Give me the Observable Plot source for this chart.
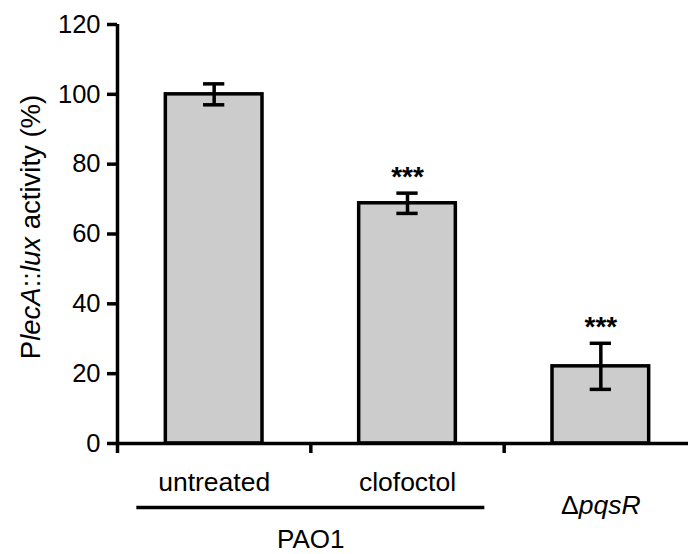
<!DOCTYPE html>
<html><head><meta charset="utf-8">
<script src="https://cdn.jsdelivr.net/npm/d3@7"></script>
<script src="https://cdn.jsdelivr.net/npm/@observablehq/plot@0.6"></script>
<style>html,body{margin:0;padding:0;background:#fff}</style>
</head><body><div id="chart"></div>
<script>
// ---- data ----
const categories = ["untreated", "clofoctol", "ΔpqsR"];
const means = [100, 68.8, 22.1];
const errors = [3.0, 2.9, 6.6];
const stars = ["", "***", "***"];
const yTicks = [0, 20, 40, 60, 80, 100, 120];
const groupLabel = "PAO1";
const groupMembers = [0, 1];
const yLabelText = "PlecA::lux activity (%)";
const yLabelParts = [["P", false], ["lecA", true], ["::", false], ["lux", true], [" activity (%)", false]];
const richLabels = {"ΔpqsR": [["Δ", false], ["pqsR", true]]};

// ---- build ----
const rows = categories.map((c, i) => ({
  name: c, i, mean: means[i], lo: means[i] - errors[i], hi: means[i] + errors[i],
  star: stars[i], grouped: groupMembers.includes(i)
}));
const group = [{label: groupLabel, a: Math.min(...groupMembers), b: Math.max(...groupMembers)}];
const font = "'Liberation Sans', Arial, Helvetica, sans-serif";
const sw = 3.5;

const plot = Plot.plot({
  width: 688, height: 554,
  marginLeft: 117, marginRight: 0, marginTop: 24, marginBottom: 111,
  style: {fontFamily: font, background: "white", color: "black"},
  x: {type: "linear", domain: [0, categories.length], range: [117, 697]},
  y: {domain: [0, 120]},
  marks: [
    Plot.rectY(rows, {x1: d => d.i + 0.25, x2: d => d.i + 0.75, y1: 0, y2: "mean",
      fill: "#cccccc", stroke: "black", strokeWidth: sw}),
    Plot.ruleX(rows, {x: d => d.i + 0.5, y1: "lo", y2: "hi", strokeWidth: sw}),
    Plot.ruleY(rows, {y: "hi", x1: d => d.i + 0.445, x2: d => d.i + 0.555, strokeWidth: sw}),
    Plot.ruleY(rows, {y: "lo", x1: d => d.i + 0.445, x2: d => d.i + 0.555, strokeWidth: sw}),
    Plot.text(rows.filter(d => d.star), {x: d => d.i + 0.5, y: "hi", text: "star",
      lineAnchor: "bottom", dy: -7, fontSize: 28, fontWeight: "bold"}),
    Plot.ruleY([0], {strokeWidth: sw}),
    Plot.ruleX([0], {y1: 0, y2: 120, strokeWidth: sw}),
    Plot.axisY({ticks: yTicks, tickSize: 10, tickPadding: 7, fontSize: 25.5, strokeWidth: sw, label: null}),
    Plot.axisX({ticks: [0, 1, 2], tickSize: 10, tickFormat: () => "", strokeWidth: sw, label: null}),
    Plot.text(rows.filter(d => d.grouped), {x: d => d.i + 0.5, frameAnchor: "bottom", text: "name",
      lineAnchor: "bottom", textAnchor: "middle", dy: 47, fontSize: 26.5}),
    Plot.text(rows.filter(d => !d.grouped), {x: d => d.i + 0.5, frameAnchor: "bottom", text: "name",
      lineAnchor: "bottom", textAnchor: "middle", dy: 70, fontSize: 26.5}),
    Plot.ruleY(group, {x1: d => d.a + 0.1, x2: d => d.b + 0.9, y: () => 0, dy: 64, strokeWidth: sw}),
    Plot.text(group, {x: d => (d.a + d.b + 1) / 2, frameAnchor: "bottom", text: "label",
      lineAnchor: "bottom", textAnchor: "middle", dy: 104, fontSize: 26}),
    Plot.text([yLabelText], {frameAnchor: "left", text: d => d, rotate: -90, textAnchor: "middle",
      lineAnchor: "middle", dx: -86, dy: -7, fontSize: 27.5})
  ]
});

function richify(el, parts) {
  while (el.firstChild) el.removeChild(el.firstChild);
  for (const [t, it] of parts) {
    const ts = document.createElementNS("http://www.w3.org/2000/svg", "tspan");
    ts.textContent = t;
    if (it) ts.setAttribute("font-style", "italic");
    el.appendChild(ts);
  }
}
d3.select(plot).selectAll("text").each(function () {
  const t = this.textContent;
  if (t === yLabelText) richify(this, yLabelParts);
  else if (richLabels[t]) richify(this, richLabels[t]);
});
document.getElementById("chart").appendChild(plot);
</script>
</body></html>
